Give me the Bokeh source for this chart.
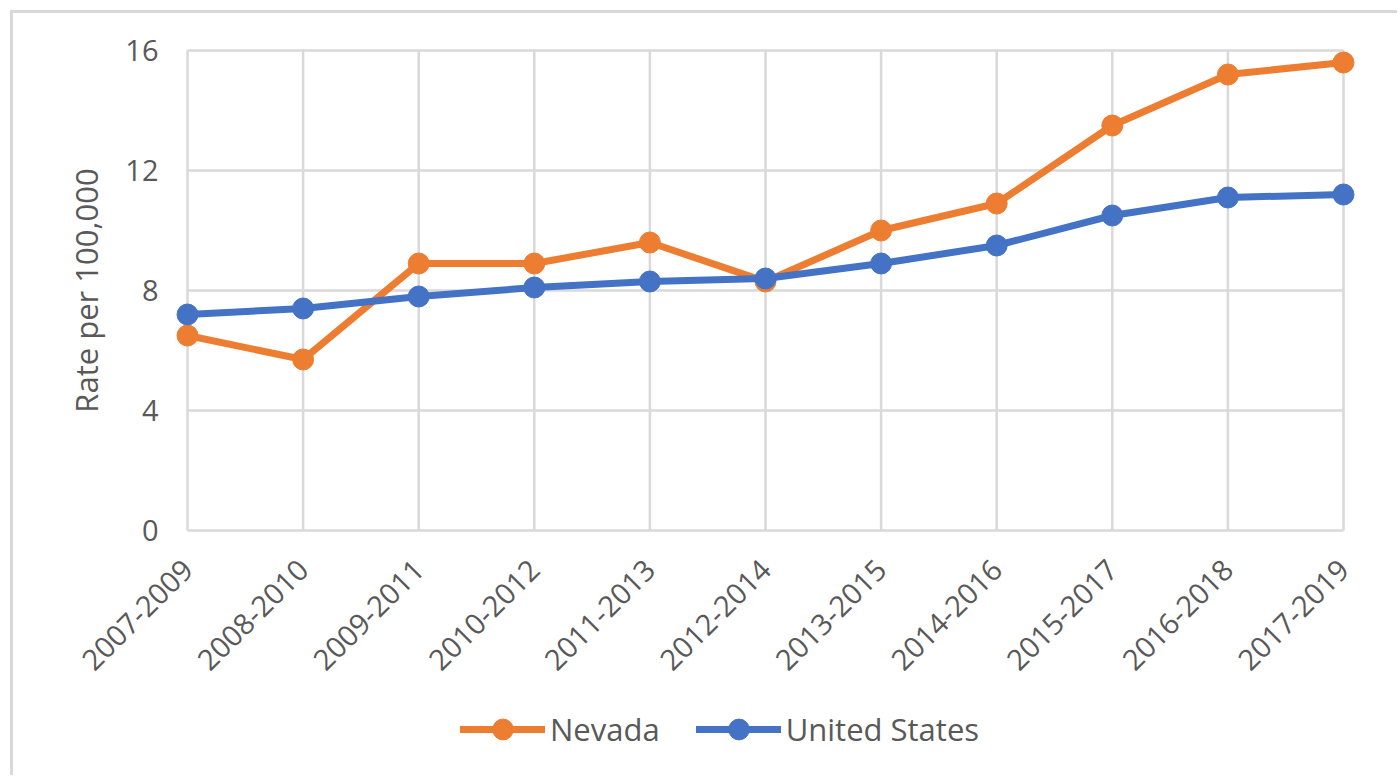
from bokeh.plotting import figure
from bokeh.models import FixedTicker, Legend, LegendItem, Range1d, ColumnDataSource, Label
from bokeh.embed import file_html
from bokeh.resources import INLINE
import math

periods = ["2007-2009", "2008-2010", "2009-2011", "2010-2012", "2011-2013", "2012-2014",
           "2013-2015", "2014-2016", "2015-2017", "2016-2018", "2017-2019"]
nevada = [6.5, 5.7, 8.9, 8.9, 9.6, 8.3, 10.0, 10.9, 13.5, 15.2, 15.6]
united_states = [7.2, 7.4, 7.8, 8.1, 8.3, 8.4, 8.9, 9.5, 10.5, 11.1, 11.2]
y_ticks = [0, 4, 8, 12, 16]

FONT = "Open Sans"
TXT = "#595959"
GRID = "#d9d9d9"
ORANGE = "#ED7D31"
BLUE = "#4472C4"

# layout (screen pixels of the page)
CANVAS_X0, CANVAS_Y0 = 13, 13
W, H = 1387, 765
PLOT_L, PLOT_R, PLOT_T, PLOT_B = 187, 1343, 50, 530
YLABEL_CX = 85
LEGEND_X = 460

n = len(periods)
px_x = (PLOT_R - PLOT_L) / (n - 1)
px_y = (PLOT_B - PLOT_T) / (y_ticks[-1] - y_ticks[0])
x_start = (CANVAS_X0 - PLOT_L) / px_x
x_end = (CANVAS_X0 + W - PLOT_L) / px_x
y_end = y_ticks[-1] + (PLOT_T - CANVAS_Y0) / px_y
y_start = y_ticks[0] - (CANVAS_Y0 + H - PLOT_B) / px_y

xs = list(range(n))
src = ColumnDataSource(dict(x=xs, nv=nevada, us=united_states,
                            y0=[y_ticks[0]] * n, y1=[y_ticks[-1]] * n))
gsrc = ColumnDataSource(dict(y=y_ticks, x0=[0] * len(y_ticks), x1=[n - 1] * len(y_ticks)))

p = figure(width=W, height=H, output_backend="svg", toolbar_location=None,
           x_range=Range1d(x_start, x_end), y_range=Range1d(y_start, y_end),
           min_border=0)
p.styles = {"margin": "10px 0 0 10px",
            "border-left": "3px solid #d9d9d9", "border-top": "3px solid #d9d9d9"}
p.outline_line_color = None
p.background_fill_color = "white"
p.border_fill_color = "white"
p.xgrid.visible = False
p.ygrid.visible = False

p.xaxis.ticker = FixedTicker(ticks=xs)
p.xaxis.major_label_overrides = {i: s for i, s in enumerate(periods)}
p.xaxis.major_label_orientation = math.pi / 4
p.xaxis.fixed_location = y_ticks[0]
p.yaxis.ticker = FixedTicker(ticks=y_ticks)
p.yaxis.fixed_location = 0
for ax in (p.xaxis, p.yaxis):
    ax.axis_line_color = None
    ax.major_tick_line_color = None
    ax.minor_tick_line_color = None
    ax.major_label_text_font = FONT
    ax.major_label_text_font_size = "29px"
    ax.major_label_text_color = TXT
p.xaxis.major_label_standoff = 28
p.yaxis.major_label_standoff = 23

# grid
p.segment(x0="x", y0="y0", x1="x", y1="y1", source=src, line_color=GRID, line_width=2.5)
p.segment(x0="x0", y0="y", x1="x1", y1="y", source=gsrc, line_color=GRID, line_width=2.5)

l1 = p.line("x", "nv", source=src, line_color=ORANGE, line_width=7, line_join="round", line_cap="round")
s1 = p.scatter("x", "nv", source=src, size=21, fill_color=ORANGE, line_color=ORANGE)
l2 = p.line("x", "us", source=src, line_color=BLUE, line_width=7, line_join="round", line_cap="round")
s2 = p.scatter("x", "us", source=src, size=21, fill_color=BLUE, line_color=BLUE)

p.add_layout(Label(x=(YLABEL_CX - PLOT_L) / px_x, y=(y_ticks[0] + y_ticks[-1]) / 2,
                   text="Rate per 100,000", angle=math.pi / 2, text_align="center",
                   text_baseline="middle", text_font=FONT, text_font_size="31px",
                   text_color=TXT))

legend = Legend(items=[LegendItem(label="Nevada", renderers=[l1, s1]),
                       LegendItem(label="United States", renderers=[l2, s2])],
                orientation="horizontal", location=(LEGEND_X - CANVAS_X0, 23),
                label_text_font=FONT, label_text_font_size="31px", label_text_color=TXT,
                glyph_width=85, glyph_height=52, label_standoff=5, spacing=36,
                padding=0, margin=0, border_line_color=None, background_fill_alpha=0)
p.add_layout(legend, "center")

open("out.html", "w").write(file_html(p, INLINE))
